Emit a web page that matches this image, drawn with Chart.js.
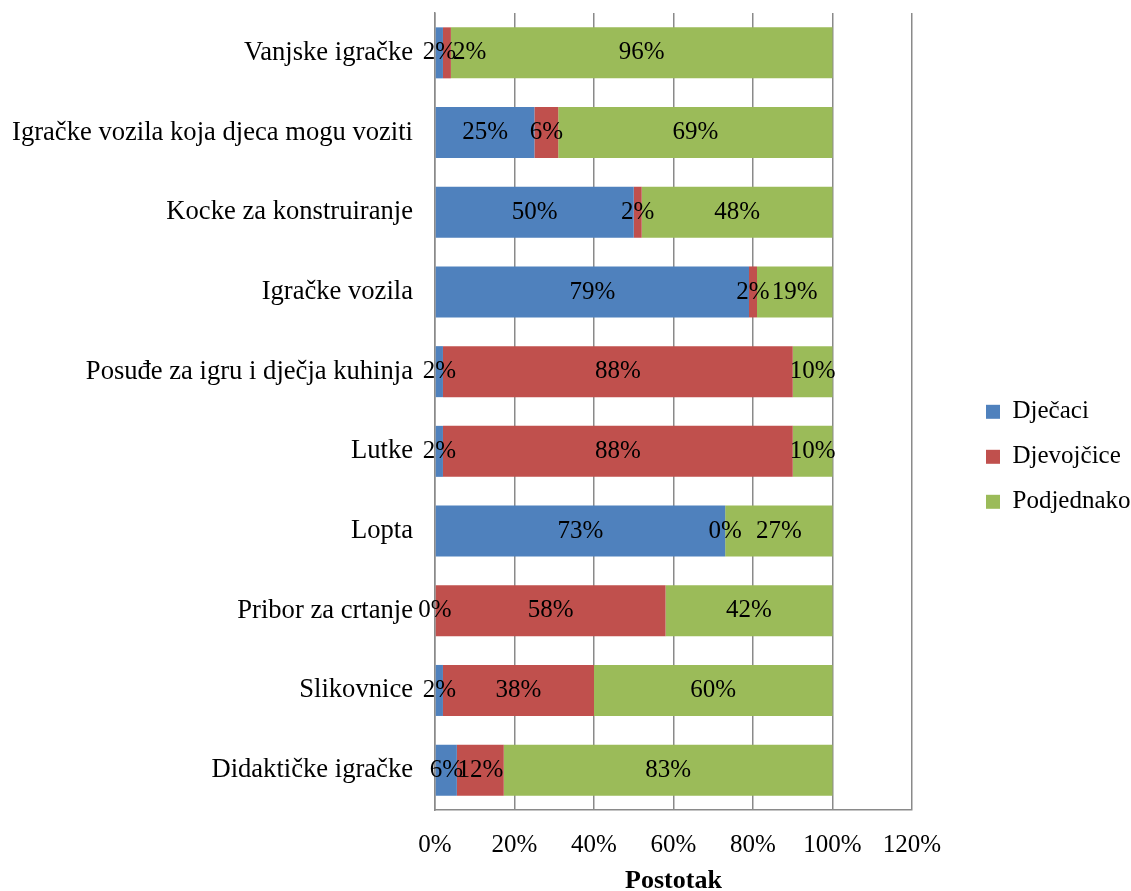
<!DOCTYPE html>
<html>
<head>
<meta charset="utf-8">
<script src="https://cdn.jsdelivr.net/npm/chart.js@4/dist/chart.umd.min.js"></script>
<style>
  body { margin: 0; background: #fff; }
</style>
</head>
<body>
<canvas id="toysChart" width="1131" height="891"></canvas>
<script>
// ===== Data =====
const categories = [
    "Vanjske igračke",
    "Igračke vozila koja djeca mogu voziti",
    "Kocke za konstruiranje",
    "Igračke vozila",
    "Posuđe za igru i dječja kuhinja",
    "Lutke",
    "Lopta",
    "Pribor za crtanje",
    "Slikovnice",
    "Didaktičke igračke"
];
const djecaci    = [2, 25, 50, 79, 2, 2, 73, 0, 2, 5.5];
const djevojcice = [2, 6, 2, 2, 88, 88, 0, 58, 38, 11.8];
const podjednako = [96, 69, 48, 19, 10, 10, 27, 42, 60, 82.7];
const xTicks = [0, 20, 40, 60, 80, 100, 120];

const serif = "'Liberation Serif', 'Times New Roman', serif";
const gridGrey = '#8a8a8a';

// ===== Value labels inside segments =====
// centred in each segment; a label that would sit on top of the
// previous one in the same bar is nudged to the right of it
const segmentLabels = {
    id: 'segmentLabels',
    afterDatasetsDraw(chart) {
        const ctx = chart.ctx;
        ctx.save();
        ctx.font = '25px ' + serif;
        ctx.fillStyle = '#000';
        ctx.textAlign = 'center';
        ctx.textBaseline = 'middle';
        const lastRight = [];
        chart.data.datasets.forEach((ds, i) => {
            chart.getDatasetMeta(i).data.forEach((bar, j) => {
                const text = Math.round(ds.data[j]) + '%';
                const w = ctx.measureText(text).width;
                let cx = (bar.x + bar.base) / 2;
                if (lastRight[j] !== undefined && cx - w / 2 < lastRight[j] - 6) {
                    cx = lastRight[j] - 3 + w / 2;
                }
                ctx.fillText(text, cx, bar.y);
                lastRight[j] = cx + w / 2;
            });
        });
        ctx.restore();
    }
};

// ===== Chart =====
const ctx = document.getElementById('toysChart').getContext('2d');
const toysChart = new Chart(ctx, {
    type: 'bar',
    data: {
        labels: categories,
        datasets: [
            { label: 'Dječaci', data: djecaci, backgroundColor: '#4F81BD' },
            { label: 'Djevojčice', data: djevojcice, backgroundColor: '#C0504D' },
            { label: 'Podjednako', data: podjednako, backgroundColor: '#9BBB59' }
        ]
    },
    options: {
        indexAxis: 'y',
        responsive: false,
        animation: false,
        barPercentage: 0.64,
        categoryPercentage: 1,
        layout: { padding: { left: 0, top: 13, right: 0, bottom: 0 } },
        plugins: {
            tooltip: { enabled: false },
            legend: {
                position: 'right',
                maxWidth: 165,
                // empty title only pushes the items down a little
                title: { display: true, text: ' ', font: { size: 8 }, padding: 0 },
                labels: {
                    font: { family: serif, size: 25 },
                    color: '#000',
                    boxWidth: 14,
                    boxHeight: 14,
                    padding: 20
                }
            }
        },
        scales: {
            x: {
                stacked: true,
                min: 0,
                max: 120,
                afterBuildTicks(scale) {
                    scale.ticks = xTicks.map(v => ({ value: v }));
                },
                ticks: {
                    font: { family: serif, size: 25 },
                    color: '#000',
                    padding: 20,
                    callback: v => v + '%'
                },
                grid: { color: gridGrey, lineWidth: 1.5, drawTicks: false },
                border: { color: gridGrey, width: 1.5 },
                title: {
                    display: true,
                    text: 'Postotak',
                    font: { family: serif, size: 26, weight: 'bold', lineHeight: 1 },
                    color: '#000',
                    padding: { top: 4, bottom: -3 }
                },
                afterFit(scale) { scale.height = 81; }
            },
            y: {
                stacked: true,
                grid: { display: false, drawTicks: false },
                border: { color: gridGrey, width: 1.5 },
                ticks: {
                    font: { family: serif, size: 26.6 },
                    color: '#000',
                    padding: 22
                },
                afterFit(scale) {
                    scale.width = 435;
                    scale.paddingTop = 0;
                    scale.paddingBottom = 0;
                }
            },
            gap: {
                type: 'linear',
                position: 'right',
                display: true,
                grid: { display: false, drawTicks: false },
                border: { display: false },
                ticks: { display: false },
                afterFit(scale) { scale.width = 54; }
            }
        }
    },
    plugins: [segmentLabels]
});
</script>
</body>
</html>
